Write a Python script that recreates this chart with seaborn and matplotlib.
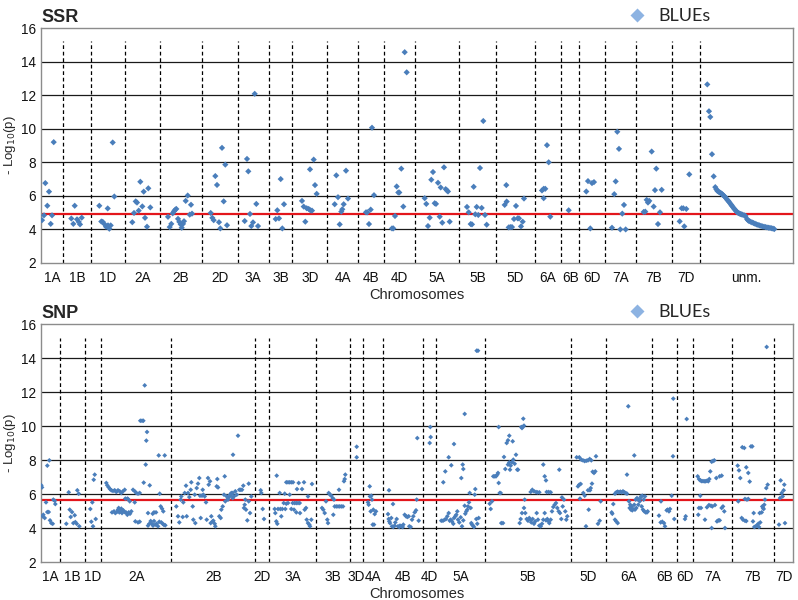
import matplotlib
matplotlib.use("Agg")
import matplotlib.pyplot as plt
from matplotlib.lines import Line2D
import pandas as pd
import seaborn as sns

# ---- SSR panel data (position along the concatenated genome, -log10 p) ----
ssr_chroms = ["1A", "1B", "1D", "2A", "2B", "2D", "3A", "3B", "3D", "4A", "4B",
              "4D", "5A", "5B", "5D", "6A", "6B", "6D", "7A", "7B", "7D", "unm."]
ssr_bounds = [0, 22, 50.3, 83.7, 118.7, 161.3, 197, 227.7, 251.3, 286.3, 317,
              343.3, 373.7, 418.3, 455.3, 493.7, 520.3, 538.3, 563.7, 594.7,
              630.7, 658.7, 752]
ssr_threshold = 4.9

ssr_pos = [
    1, 3, 4.3, 6.3, 8, 9.7, 11, 12.7,                                   # 1A
    30.3, 32.3, 33.7, 36, 37.7, 39, 40.7,                               # 1B
    58.3, 60.3, 61.7, 63.7, 65, 66.7, 67, 68.3, 69.7, 71.7, 73.3,       # 1D
    91.3, 93, 94.7, 96, 97.7, 99.3, 101.3, 102.7, 104, 106, 107.3, 109.3,  # 2A
    127, 128.7, 130.3, 131.7, 133, 134.3, 135.3, 137, 138.3, 139.7, 140.7,
    142, 143, 144.7, 146.7, 148.7, 150, 151,                            # 2B
    169.7, 171.3, 172.7, 174.3, 176, 178, 179.3, 181, 182.7, 184.3, 186,  # 2D
    203.7, 206, 207.3, 209, 210.3, 212, 213.7, 215.3, 217,              # 3A
    234.7, 236.3, 238, 239.7, 241.3, 243,                               # 3B
    261, 262.7, 264.3, 265.7, 267.7, 269, 269.3, 271, 272.7, 274, 275.7,  # 3D
    293.7, 295.3, 297, 298.7, 300.3, 301.3, 302.7, 305, 307,            # 4A
    325, 326.3, 328, 329.7, 331, 333,                                   # 4B
    351, 352.3, 354, 355.7, 357.3, 358.3, 360.3, 362.3, 363.7, 365.7,   # 4D
    383.7, 385.3, 387, 388.7, 390.3, 392, 393.7, 395, 397, 398.7, 399.7,
    401.3, 403, 404.7, 406, 407, 408.7,                                 # 5A
    426, 427.7, 429.7, 431, 432.7, 434.3, 435.7, 437.3, 439, 440.7, 442.3,
    444, 445.7,                                                         # 5B
    463.7, 465.3, 465.7, 467.7, 469.3, 471, 473, 475, 476.7, 478, 480,
    481.7, 483,                                                         # 5D
    501, 502.7, 502.7, 504.3, 506, 507.7, 509.3,                        # 6A
    527.7,                                                              # 6B
    545.3, 547, 549.3, 551, 553,                                        # 6D
    571, 573.3, 574.7, 576.3, 578, 579.3, 581.3, 583, 584.7,            # 7A
    602.7, 604.3, 605.7, 607, 608.3, 610.7, 612.7, 614, 615.3, 617, 619,
    620.7,                                                              # 7B
    638.7, 640.7, 642.3, 643.3, 645.3, 648.3,                           # 7D
    666.3, 668, 669.3, 671, 672.7, 674.3, 675.3, 676.3, 677.3, 678.3,
    679.3, 680.3, 681.3, 682.3, 683.3, 684.3, 685.3, 686.3, 687.3, 688.3,
    689.3, 690.3, 691.3, 692.3, 693.3, 694.3, 695.3, 696.3, 697.3, 698.3,
    699.3, 700.3, 701.3, 703, 704.5, 706, 707, 708, 709.5, 711, 712.5,
    714, 715.5, 717, 718.5, 720, 721.5, 723, 724.5, 726, 727.5, 729,
    730.5, 732, 733.3,                                                  # unm.
]
ssr_logp = [
    4.55, 4.84, 6.76, 5.41, 6.25, 4.33, 4.84, 9.2,
    4.65, 4.33, 5.41, 4.6, 4.45, 4.3, 4.7,
    5.41, 4.47, 4.45, 4.3, 4.16, 5.25, 4.24, 4.04, 4.24, 9.18, 5.96,
    4.43, 4.98, 5.67, 5.6, 5.12, 6.84, 5.37, 6.25, 4.69, 4.16, 6.45, 5.31,
    4.75, 4.14, 4.33, 4.96, 5.08, 5.18, 5.22, 4.63, 4.45, 4.3, 4.1,
    4.33, 4.49, 5.7, 6.02, 4.88, 5.47, 4.94,
    4.98, 4.69, 4.55, 7.18, 6.65, 4.43, 4.06, 8.86, 5.67, 7.86, 4.25,
    4.5, 8.2, 7.46, 4.92, 4.2, 4.42, 12.08, 5.52, 4.2,
    4.62, 5.14, 4.66, 7.0, 4.06, 5.5,
    5.7, 5.36, 4.46, 5.26, 5.22, 7.58, 5.14, 5.12, 8.16, 6.64, 6.12,
    5.5, 7.22, 5.92, 4.3, 5.06, 5.2, 5.5, 7.5, 5.84,
    5.02, 5.02, 4.32, 5.18, 10.06, 6.04,
    4.06, 4.06, 4.8, 6.56, 6.2, 6.2, 7.62, 5.36, 14.56, 13.36,
    5.86, 5.52, 4.2, 4.7, 6.96, 7.42, 5.56, 5.52, 6.78, 4.76, 6.5,
    4.4, 7.7, 6.4, 6.32, 6.26, 4.46,
    5.34, 5.02, 4.32, 4.3, 6.54, 4.9, 5.34, 4.86, 7.66, 5.28, 10.46,
    4.86, 4.28,
    5.46, 6.64, 5.66, 4.12, 4.14, 4.14, 4.62, 5.4, 4.66, 4.66, 4.18,
    4.46, 5.84,
    6.32, 6.42, 5.86, 6.42, 9.02, 8.0, 4.76,
    5.14,
    6.26, 6.88, 4.06, 6.76, 6.82,
    4.1, 6.1, 6.86, 9.82, 8.8, 4.0, 4.94, 5.46, 4.0,
    5.04, 5.06, 5.76, 5.6, 5.7, 8.64, 5.36, 6.34, 7.62, 4.32, 5.02,
    6.36,
    4.48, 5.26, 5.26, 4.18, 5.22, 7.28,
    12.64, 11.04, 10.7, 8.48, 7.16, 6.52, 6.40, 6.30, 6.26, 6.22,
    6.18, 6.14, 6.10, 6.04, 5.98, 5.92, 5.84, 5.76, 5.70, 5.62,
    5.54, 5.46, 5.38, 5.30, 5.22, 5.16, 5.08, 5.02, 4.98, 4.95,
    4.92, 4.90, 4.88, 4.85, 4.80, 4.62, 4.55, 4.50, 4.46, 4.42, 4.38,
    4.34, 4.30, 4.27, 4.24, 4.21, 4.18, 4.16, 4.14, 4.12, 4.10, 4.09,
    4.07, 4.05, 4.02,
]

# ---- SNP panel data ----
snp_chroms = ["1A", "1B", "1D", "2A", "2B", "2D", "3A", "3B", "3D", "4A", "4B",
              "4D", "5A", "5B", "5D", "6A", "6B", "6D", "7A", "7B", "7D"]
snp_bounds = [0, 18.7, 43.7, 60.3, 130.3, 214.3, 227.7, 275.3, 308.7, 322.3,
              342, 382.3, 395.3, 444.5, 530, 564.7, 610.7, 636.3, 651.7, 690.7,
              733, 752]
snp_threshold = 5.67

snp_pos = [
    0.3, 1.0, 1.7, 2.3, 3.7, 5.0, 6.3, 6.3, 7.7, 8.3, 9.0, 10.3, 11.7, 12.3,
    13.7, 14.3,                                                          # 1A
    25.3, 27.7, 28.7, 29.7, 31.0, 32.3, 33.7, 34.3, 35.7, 36.3, 37.7, 38.3,  # 1B
    49.3, 50.3, 51.3, 52.0, 52.7, 53.7, 54.7,                            # 1D
    65.3, 66.3, 67.7, 69.0, 70.3, 72.0, 73.7, 75.3, 77.0, 78.7, 80.3, 82.0,
    83.7, 84.3, 86.3, 87.0, 92.0, 93.7, 95.3, 97.0, 98.7,
    71.0, 73.0, 74.3, 75.7, 77.0, 78.3, 79.7, 81.0, 82.3, 83.7, 85.0, 86.3,
    87.7, 89.0, 90.3, 80.3, 77.7, 88.7, 93.7, 94.3, 97.0, 98.7,
    99.3, 101.0, 102.3, 103.7, 105.3, 106.0, 104.7, 102.7, 108.7, 107.0,
    107.0, 108.3, 109.7, 111.0, 112.0, 113.0, 114.3, 115.7, 117.0, 118.3,
    120.3, 121.7, 123.0, 111.7, 113.0, 115.0, 117.7, 123.7, 118.7, 119.7,
    121.0, 122.3, 124.3,                                                 # 2A
    135.3, 137.0, 138.3, 139.7, 140.3, 141.7, 142.3, 143.7, 145.0, 145.7,
    147.0, 148.3, 149.7, 150.3, 151.7, 152.3, 153.7, 154.3, 155.7, 157.0,
    158.3, 159.0, 159.7, 161.0, 161.7, 162.3, 163.7, 165.0, 165.7, 167.0,
    167.7, 169.0, 169.7, 170.3, 171.7, 172.3, 173.7, 174.3, 175.7, 176.3,
    177.0, 178.3, 179.7, 180.3, 181.7, 183.0, 183.7, 184.3, 185.7, 187.0,
    189.0, 190.3, 191.7, 187.0, 188.7, 190.3, 191.7, 193.0, 194.3, 195.7,
    197.0, 192.0, 198.3, 199.7, 201.0, 202.3, 203.7, 205.0, 206.3, 207.7,
    209.0, 203.0, 204.3, 207.7, 210.3,                                   # 2B
    219.7, 220.3, 221.7, 223.0,                                          # 2D
    233.7, 234.3, 235.3, 235.7, 236.3, 237.0, 238.7, 239.3, 240.3, 241.3,
    242.7, 243.7, 244.3, 245.3, 247.0, 248.7, 250.3, 252.0, 245.3, 247.0,
    248.7, 250.3, 251.7, 253.7, 255.3, 257.0, 258.7, 253.0, 255.3, 256.0,
    257.7, 259.0, 261.0, 263.0, 263.7, 265.0, 265.7, 267.0, 268.3, 269.0,
    270.3, 271.0, 267.0,                                                 # 3A
    281.0, 282.3, 283.7, 285.0, 286.3, 287.0, 287.7, 289.0, 290.3, 291.7,
    293.0, 292.3, 293.7, 295.3, 297.0, 298.7, 300.3, 302.0, 298.0, 303.0,
    303.7, 304.3,                                                        # 3B
    315.7, 315.7,                                                        # 3D
    327.0, 327.7, 328.7, 329.0, 329.7, 330.3, 331.0, 331.7, 332.3, 333.0,
    333.7, 335.0,                                                        # 4A
    347.0, 347.7, 348.0, 348.3, 349.0, 350.3, 351.0, 352.0, 352.3, 353.7,
    354.3, 355.7, 357.0, 358.3, 359.0, 360.3, 361.7, 362.3, 363.7, 365.0,
    366.3, 367.7, 368.3, 369.7, 371.0, 372.3, 373.7, 375.0, 375.7, 376.3,
    377.7,                                                               # 4B
    388.7, 389.3, 389.7,                                                 # 4D
    400.3, 402.0, 402.3, 403.7, 404.3, 405.0, 406.3, 407.7, 407.7, 408.7,
    409.7, 410.3, 411.0, 412.3, 413.0, 413.0, 414.3, 415.3, 416.3, 417.0,
    418.3, 419.7, 420.3, 421.0, 421.7, 422.3, 422.3, 423.7, 423.7, 424.3,
    425.3, 426.3, 427.0, 428.0, 428.7, 429.7, 430.3, 431.0, 432.0, 433.0,
    433.7, 434.3, 435.3, 435.7, 437.0, 436.3, 437.7,                     # 5A
    448.7, 449.7, 451.0, 452.3, 453.7, 455.0, 456.3, 457.0, 457.7, 457.7,
    458.7, 459.7, 460.3, 462.0, 463.0, 464.3, 465.7, 467.0, 467.0, 468.3,
    468.3, 469.0, 469.7, 471.0, 471.7, 472.3, 473.7, 475.0, 476.3, 477.0,
    478.7, 479.7, 480.3, 481.0, 481.7, 482.3, 483.0, 481.0, 483.0, 483.7,
    484.3, 485.7, 487.0, 488.3, 489.7, 489.7, 490.3, 491.3, 491.7, 493.0,
    493.0, 494.3, 495.0, 495.7, 496.3, 497.0, 498.3, 498.3, 499.7, 501.0,
    502.3, 502.3, 503.7, 503.7, 505.0, 505.0, 505.7, 506.3, 507.7, 507.7,
    508.3, 509.7, 509.7, 511.0, 512.3, 513.7, 515.0, 516.3, 517.7, 518.3,
    519.0, 520.3, 521.0, 521.7, 523.0, 524.3, 525.3, 526.3,              # 5B
    535.7, 537.0, 538.3, 538.3, 539.0, 539.7, 540.3, 542.0, 542.3, 543.7,
    543.7, 545.0, 545.3, 547.0, 547.0, 547.7, 548.7, 549.0, 549.7, 550.3,
    551.0, 551.7, 553.0, 554.3, 555.0, 557.0, 558.7, 559.7,              # 5D
    570.7, 571.3, 572.3, 574.0, 574.0, 575.3, 575.3, 576.7, 576.7, 578.0,
    579.3, 580.7, 582.0, 583.3, 584.7, 586.0, 586.0, 587.3, 588.0, 588.7,
    589.3, 590.0, 590.7, 591.3, 592.0, 593.3, 593.3, 594.0, 594.7, 595.3,
    596.0, 597.3, 597.3, 598.7, 599.0, 600.0, 600.7, 601.3, 602.0, 602.7,
    603.3, 604.0, 604.7, 606.0, 606.7,                                   # 6A
    618.0, 619.7, 620.0, 621.3, 623.0, 624.0, 625.7, 626.7, 628.0, 629.0,
    630.7, 632.0, 632.3, 633.3,                                          # 6B
    644.0, 644.7, 645.7,                                                 # 6D
    656.7, 657.3, 658.0, 658.0, 659.3, 659.3, 660.0, 660.7, 662.0, 663.3,
    664.0, 664.7, 666.0, 666.0, 667.3, 668.0, 668.3, 669.3, 670.0, 670.7,
    670.7, 671.3, 672.0, 673.3, 674.0, 675.3, 676.0, 677.3, 678.7, 678.7,
    680.7, 680.7, 682.0, 683.3, 684.0,                                   # 7A
    696.7, 697.3, 698.0, 699.3, 700.7, 701.3, 702.0, 703.3, 704.0, 704.0,
    705.3, 705.3, 706.0, 707.3, 707.3, 708.7, 710.0, 711.3, 712.0, 712.7,
    713.3, 714.7, 716.0, 717.3, 718.0, 718.7, 719.3, 720.7, 721.3, 722.0,
    722.7, 723.3, 724.0, 725.3, 725.7, 726.7,                            # 7B
    738.0, 739.0, 739.7, 740.7, 741.7, 742.7, 743.3, 744.0,              # 7D
]
snp_logp = [
    6.51, 6.39, 4.69, 4.78, 4.59, 5.51, 4.94, 7.67, 4.94, 7.98, 4.45, 4.29,
    4.25, 5.67, 5.60, 5.41,
    4.25, 6.10, 5.08, 4.65, 4.94, 4.29, 4.75, 4.35, 4.25, 6.22, 6.02, 4.10,
    5.12, 4.37, 5.51, 4.10, 6.84, 7.14, 4.53,
    6.65, 6.51, 6.39, 6.29, 6.22, 6.18, 6.22, 6.12, 6.22, 6.16, 6.06, 6.16,
    6.25, 5.73, 5.73, 5.71, 6.25, 6.16, 6.06, 6.02, 6.06,
    4.92, 4.98, 4.88, 4.94, 5.08, 4.92, 4.98, 4.88, 5.04, 4.94, 4.92, 4.78,
    4.92, 4.84, 4.98, 5.14, 5.18, 5.57, 5.51, 4.39, 4.33, 4.37,
    10.31, 10.31, 10.31, 12.39, 9.14, 9.65, 7.73, 6.67, 6.51, 4.88,
    4.14, 4.25, 4.41, 4.25, 4.14, 4.41, 4.20, 4.25, 4.10, 4.37,
    4.33, 4.25, 4.18, 4.84, 4.92, 4.92, 8.27, 8.27, 6.02, 5.27,
    5.14, 4.98, 4.16,
    5.27, 4.69, 4.33, 5.67, 5.86, 4.65, 5.51, 6.06, 6.49, 4.69,
    6.06, 5.82, 6.25, 6.69, 5.27, 4.49, 5.96, 4.29, 6.35, 6.61,
    6.94, 5.90, 4.59, 5.90, 6.25, 5.96, 5.86, 5.51, 4.49, 6.94,
    6.55, 6.75, 4.29, 4.69, 4.39, 4.43, 4.25, 4.10, 6.45, 6.88,
    6.39, 4.69, 4.59, 5.08, 5.27, 5.96, 7.04, 5.57, 5.86, 5.76,
    5.96, 6.06, 5.76, 5.67, 5.86, 5.96, 6.06, 5.86, 6.16, 5.96,
    9.43, 8.31, 6.25, 6.25, 6.25, 6.49, 5.37, 5.08, 4.45, 6.61,
    4.88, 5.18, 5.67, 5.57, 5.86,
    6.22, 6.06, 5.12, 4.53,
    5.12, 4.88, 4.39, 7.08, 4.25, 5.12, 6.06, 5.12, 4.69, 5.12,
    5.47, 6.02, 5.12, 6.69, 6.69, 6.69, 6.69, 6.69, 5.43, 5.47,
    5.96, 5.12, 5.47, 5.47, 5.47, 5.47, 5.47, 5.08, 4.92, 6.29,
    6.65, 4.88, 6.29, 6.69, 5.08, 5.18, 4.49, 4.29, 4.20, 4.10,
    4.49, 6.59, 5.86,
    5.18, 5.08, 4.88, 5.57, 4.49, 4.29, 6.06, 5.96, 5.90, 5.76,
    5.67, 4.78, 5.27, 5.27, 5.27, 5.27, 5.27, 5.27, 6.25, 6.75,
    6.88, 7.14,
    8.78, 8.16,
    5.51, 5.37, 6.45, 5.86, 4.98, 5.90, 5.67, 4.20, 5.08, 4.20,
    4.82, 4.98,
    4.82, 4.53, 6.22, 4.39, 4.29, 4.59, 4.10, 5.41, 4.06, 4.14,
    4.33, 4.53, 4.10, 4.06, 4.14, 4.10, 4.06, 4.20, 4.78, 4.69,
    4.65, 4.69, 4.10, 4.06, 4.49, 4.69, 4.92, 5.04, 5.67, 9.29,
    4.43,
    9.00, 9.94, 9.35,
    4.43, 4.43, 6.69, 4.49, 7.33, 4.53, 4.69, 4.88, 8.16, 4.43,
    4.49, 7.69, 4.39, 4.25, 4.59, 8.94, 4.69, 4.78, 4.98, 4.49,
    4.33, 4.63, 6.94, 4.10, 7.73, 7.47, 4.45, 10.71, 5.31, 4.84,
    4.98, 5.08, 5.27, 5.51, 6.06, 5.18, 4.29, 4.20, 4.14, 4.06,
    5.96, 6.29, 4.53, 14.43, 14.43, 4.25, 4.59,
    5.43, 5.12, 5.57, 7.04, 7.04, 7.04, 7.14, 7.24, 6.65, 9.94,
    6.06, 6.06, 4.29, 4.29, 8.18, 7.47, 9.00, 9.16, 7.73, 9.43,
    7.86, 7.43, 7.67, 7.86, 9.10, 8.02, 7.78, 8.31, 7.43, 7.43,
    4.29, 4.53, 9.94, 9.88, 9.94, 10.43, 10.02, 4.88, 5.18, 5.67,
    4.88, 4.53, 4.43, 4.59, 6.12, 4.49, 4.33, 6.25, 4.53, 6.16,
    4.25, 4.39, 6.12, 4.88, 6.10, 4.49, 6.10, 4.14, 4.10, 4.25,
    7.73, 4.49, 7.04, 4.88, 6.80, 4.45, 6.12, 4.53, 6.12, 4.39,
    4.29, 6.10, 4.49, 4.98, 5.24, 5.37, 5.47, 5.18, 4.98, 7.43,
    4.88, 4.53, 5.80, 5.27, 5.67, 4.98, 4.49, 4.69,
    8.16, 6.45, 8.16, 6.55, 5.73, 6.59, 8.02, 7.98, 6.06, 7.94,
    5.90, 4.10, 7.96, 7.98, 6.22, 5.08, 8.06, 6.22, 6.35, 7.98,
    6.61, 7.31, 7.24, 7.33, 8.22, 4.25, 4.43, 5.57,
    4.92, 4.84, 5.41, 6.02, 4.49, 6.10, 4.39, 6.14, 4.29, 6.10,
    6.14, 6.10, 6.16, 6.10, 6.06, 6.02, 7.14, 11.16, 5.57, 5.18,
    5.37, 5.08, 5.27, 5.04, 5.12, 8.27, 5.37, 5.08, 5.67, 5.18,
    5.76, 5.67, 5.37, 5.57, 5.71, 5.86, 5.27, 5.90, 5.08, 5.67,
    4.98, 5.86, 4.92, 4.92, 4.98,
    4.73, 4.33, 5.57, 4.37, 4.29, 4.10, 5.04, 5.08, 4.98, 5.12,
    5.90, 8.22, 11.61, 4.53,
    4.53, 4.69, 10.41,
    7.04, 4.78, 6.88, 5.18, 6.80, 5.90, 5.18, 6.76, 6.76, 6.75,
    4.49, 6.75, 6.78, 5.22, 6.75, 5.35, 6.88, 7.33, 5.31, 7.90,
    4.00, 5.27, 7.94, 7.98, 5.35, 6.94, 4.39, 4.45, 7.04, 4.45,
    7.08, 5.18, 5.27, 4.98, 4.00,
    7.67, 5.57, 7.39, 6.94, 4.59, 8.75, 4.49, 8.71, 5.71, 4.43,
    7.57, 4.41, 5.67, 7.24, 5.71, 6.73, 8.80, 8.80, 4.39, 4.88,
    4.06, 4.10, 4.14, 4.25, 4.06, 4.88, 4.33, 4.92, 5.27, 5.18,
    5.12, 5.37, 5.67, 6.35, 14.65, 6.55,
    4.20, 5.76, 6.80, 6.06, 5.86, 6.22, 6.55, 4.29,
]

sns.set_style("white")
plt.rcParams["font.family"] = ["Liberation Sans", "DejaVu Sans"]

POINT = "#4a7ebb"
LEGEND_POINT = "#8db3e2"


def draw_panel(ax, title, chroms, bounds, pos, logp, threshold, size):
    df = pd.DataFrame({"pos": pos, "logp": logp})
    ax.set_xlim(bounds[0], bounds[-1])
    ax.set_ylim(2, 16)
    ax.set_yticks(range(2, 17, 2))
    for y in range(4, 16, 2):
        ax.axhline(y, color="#1a1a1a", lw=0.9, zorder=1)
    ax.vlines(bounds[1:-1], 2, 15.2, colors="black", linestyles=(0, (3, 2.2)),
              lw=0.9, zorder=1)
    ax.axhline(threshold, color="#e3161c", lw=1.6, zorder=2)
    sns.scatterplot(data=df, x="pos", y="logp", marker="D", s=size, color=POINT,
                    edgecolor="none", linewidth=0, ax=ax, zorder=3, legend=False)

    mids = [(a + b) / 2 for a, b in zip(bounds[:-1], bounds[1:])]
    ax.set_xticks(mids, chroms)
    ax.tick_params(axis="both", length=0, labelsize=9.8, colors="#111111")
    ax.tick_params(axis="x", pad=6)
    ax.set_xlabel("Chromosomes", fontsize=10.5, labelpad=2)
    ax.set_ylabel("- Log$_{10}$(p)", fontsize=9.5)
    ax.yaxis.set_label_coords(-0.031, 0.5)
    for sp in ax.spines.values():
        sp.set_color("#8c8c8c")
        sp.set_linewidth(1.0)
    ax.set_title(title, loc="left", fontsize=13, fontweight="bold", pad=4)

    handle = Line2D([], [], marker="D", linestyle="none", markersize=7,
                    markerfacecolor=LEGEND_POINT, markeredgecolor="none",
                    label="BLUEs")
    ax.legend(handles=[handle], loc="lower right", bbox_to_anchor=(0.9, 0.985),
              frameon=False, handletextpad=0.2, borderaxespad=0,
              prop={"family": ["Lato", "DejaVu Sans"], "size": 13})


fig = plt.figure(figsize=(7.98, 6.0), dpi=100)
ax1 = fig.add_axes([0.0514, 0.5617, 0.9423, 0.3916])
ax2 = fig.add_axes([0.0514, 0.0633, 0.9423, 0.3967])

draw_panel(ax1, "SSR", ssr_chroms, ssr_bounds, ssr_pos, ssr_logp, ssr_threshold, 10)
draw_panel(ax2, "SNP", snp_chroms, snp_bounds, snp_pos, snp_logp, snp_threshold, 6)

fig.savefig("out.png", dpi=100)
